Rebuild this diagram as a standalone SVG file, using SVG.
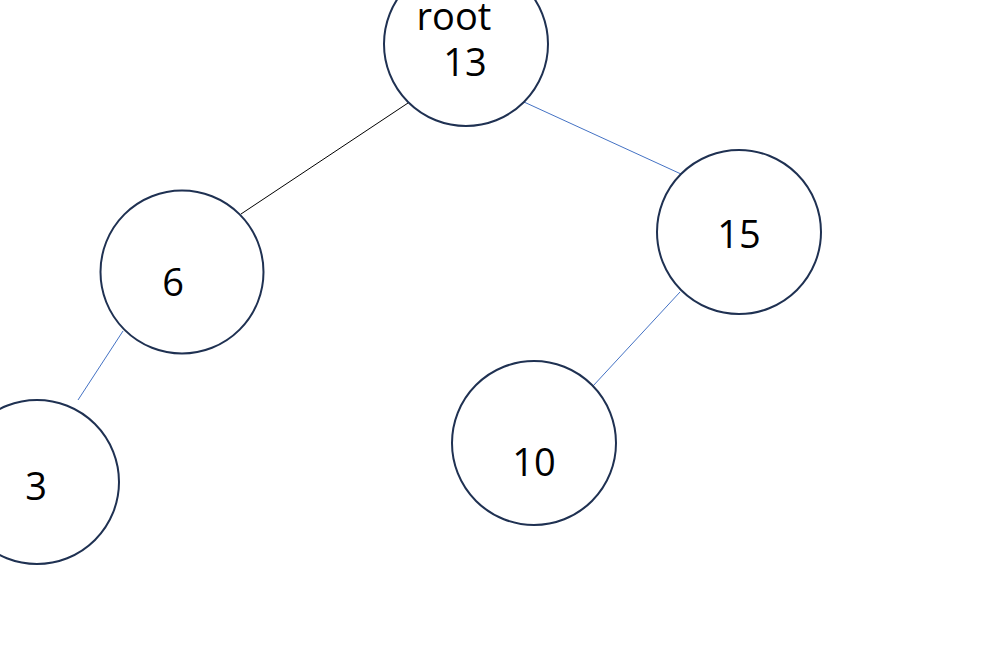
<svg xmlns="http://www.w3.org/2000/svg" width="1005" height="652" viewBox="0 0 1005 652">
<style>
.node circle{fill:#fff;stroke:#1f3152;stroke-width:2}
.node text{font-family:"Open Sans","Noto Sans",sans-serif;font-size:38px;fill:#000;text-anchor:middle}
.blue{stroke:#4472c4;stroke-width:1}
.black{stroke:#000;stroke-width:1}
</style>
<rect width="1005" height="652" fill="#fff"/>
<g id="connectors">
<line class="black" x1="408" y1="103" x2="241" y2="214"/>
<line class="blue" x1="524" y1="102" x2="681" y2="174"/>
<line class="blue" x1="680" y1="292" x2="593" y2="386"/>
<line class="blue" x1="123" y1="331" x2="78" y2="400"/>
</g>
<g id="node-root" class="node">
<circle cx="466" cy="44" r="82"/>
<text x="454" y="30">root</text>
<text x="465" y="76">13</text>
</g>
<g id="node-6" class="node">
<circle cx="182" cy="272" r="81.5"/>
<text x="173" y="296">6</text>
</g>
<g id="node-15" class="node">
<circle cx="739" cy="232" r="82"/>
<text x="739" y="248">15</text>
</g>
<g id="node-10" class="node">
<circle cx="534" cy="443" r="82"/>
<text x="534" y="476">10</text>
</g>
<g id="node-3" class="node">
<circle cx="37" cy="482" r="82"/>
<text x="36" y="500">3</text>
</g>
</svg>
